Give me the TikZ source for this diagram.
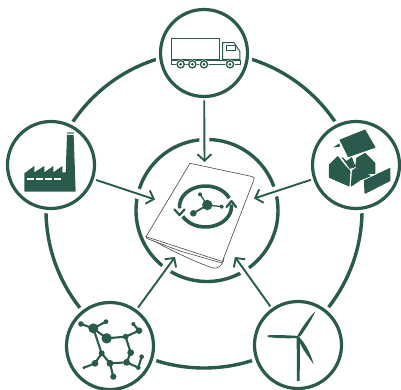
\documentclass[tikz,border=0pt]{standalone}
\usetikzlibrary{arrows.meta}
\definecolor{gr}{HTML}{2A5A4C}
\tikzset{
 x=1pt,y=-1pt,
 ring/.style={draw=gr,line width=3.4pt},
 badge/.style={circle,draw=gr,line width=3.2pt,fill=white,minimum size=87pt,inner sep=0pt,outer sep=4pt},
 halo/.style={circle,fill=white,minimum size=97pt,inner sep=0pt},
 link/.style={draw=gr,line width=1.9pt,-{Straight Barb[length=6.5pt,width=14pt,line width=1.9pt]}},
 gap/.style={draw=white,line width=10pt,shorten >=9pt},
 zoomed/.style={shift={#1},x=0.3333pt,y=-0.3333pt},
 solid/.style={fill=gr,draw=none},
 chunk/.style={fill=gr,draw=gr,line width=0.9pt,line join=round},
 outl/.style={draw=gr,line width=1pt,fill=white},
 page/.style={draw=black!72,line width=0.6pt,line join=round},
 bond/.style={draw=gr,line width=2.1pt},
 emblem/.style={draw=gr,line width=3.6pt},
 barb/.style={draw=gr,line width=2.2pt,line cap=round,line join=round},
}
\begin{document}
\begin{tikzpicture}
\useasboundingbox (0,0) rectangle (401,390);
% outer ring and inner ring
\coordinate (hub) at (204,210);
\path (hub) node[circle,ring,minimum size=316pt,inner sep=0pt] (outerring) {};
\node[halo] at (204,53) {};
\node[halo] at (51,165) {};
\node[halo] at (356,165) {};
\node[halo] at (110,346) {};
\node[halo] at (298,345) {};
\node[circle,ring,minimum size=142pt,inner sep=0pt] (core) at (207,210.5) {};
\node[badge] (truck) at (204,53) {};
\node[badge] (factory) at (51,165) {};
\node[badge] (house) at (356,165) {};
\node[badge] (molecule) at (110,346) {};
\node[badge] (turbine) at (298,345) {};
\coordinate (tipT) at (204.5,162);
\coordinate (tipL) at (155,199.5);
\coordinate (tipR) at (254,198.5);
\coordinate (tipBL) at (175,257);
\coordinate (tipBR) at (235,257);
\foreach \a/\b in {truck/tipT,factory/tipL,house/tipR,molecule/tipBL,turbine/tipBR}
  \draw[gap] (\a) -- (\b);
% truck
\begin{scope}[zoomed={(150,0)}]
 \draw[outl] (65,116) rectangle (210,178);
 \draw[outl] (218,128) -- (252,128) -- (270,155) -- (270,178) -- (218,178) -- cycle;
 \draw[draw=gr,line width=0.8pt] (230,137) rectangle (255,150);
 \draw[draw=gr,line width=0.9pt] (65,180) -- (65,192) -- (270,192) -- (270,180) -- cycle;
 \foreach \c in {92,127,162,240}{
  \fill[white] (\c,193) circle (4.8pt);
  \draw[gr,line width=1.3pt] (\c,193) circle (3.6pt);
  \fill[gr] (\c,193) circle (1.5pt);
 }
\end{scope}
% factory
\begin{scope}[zoomed={(0,115)}]
 \fill[solid] (73,175) -- (103,153) -- (103,172) -- (133,153) -- (133,172) -- (160,153) -- (160,172) -- (187,153) -- (187,172) -- (197,172) -- (201,60) -- (221,60) -- (227,230) -- (73,230) -- cycle;
 \fill[gr!55] (201,51) rectangle (221,58);
 \foreach \s in {80,107,134,161}
  \fill[white] (\s,188) rectangle (\s+21,194);
\end{scope}
% house
\begin{scope}[zoomed={(305,115)}]
 \draw[chunk] (105,75) -- (180,45) -- (210,97) -- (130,125) -- cycle;
 \draw[chunk] (73,150) -- (98,125) -- (118,150) -- (135,168) -- (132,213) -- (73,187) -- cycle;
 \draw[chunk] (112,128) -- (125,140) -- (140,128) -- (150,155) -- (135,160) -- cycle;
 \draw[chunk] (155,130) -- (180,115) -- (210,145) -- (210,175) -- (180,178) -- (152,155) -- cycle;
 \draw[chunk] (142,168) -- (152,160) -- (195,183) -- (165,195) -- (139,213) -- cycle;
 \draw[chunk] (178,197) -- (255,160) -- (255,197) -- (180,235) -- cycle;
 \fill[solid] (85,97) -- (103,85) -- (105,95) -- cycle;
\end{scope}
% molecule
\begin{scope}[zoomed={(60,300)}]
 \draw[bond] (63,72) -- (100,85) -- (138,65);
 \draw[bond] (100,85) -- (140,115) -- (197,110) -- (212,158) -- (200,187) -- (150,190) -- (125,160) -- cycle;
 \draw[bond] (197,110) -- (237,92) -- (220,72);
 \draw[bond] (125,160) -- (105,190) -- (72,203);
 \draw[bond] (150,190) -- (160,230);
 \draw[bond] (200,187) -- (235,203) -- (245,170);
 \foreach \a/\b/\r in {63/72/2.8,100/85/5,138/65/2.4,140/115/5.2,197/110/2.9,237/92/3.3,220/72/2,212/158/3.4,200/187/3.4,150/190/3.4,125/160/3,105/190/3.4,72/203/1.6,160/230/3.1,235/203/2.3,245/170/2.3}
  \fill[gr] (\a,\b) circle (\r pt);
\end{scope}
% turbine
\begin{scope}[zoomed={(245,300)}]
 \fill[solid] (155,112) -- (165,112) -- (164,243) -- (156,243) -- cycle;
 \fill[solid] (160,114) .. controls (120,116) and (90,114) .. (68,111) -- (68,106) .. controls (100,104) and (130,106) .. (162,108) -- cycle;
 \fill[solid] (157,108) .. controls (175,75) and (195,50) .. (211,34) .. controls (200,60) and (180,90) .. (165,110) -- cycle;
 \fill[solid] (163,112) .. controls (185,135) and (198,165) .. (206,193) .. controls (190,170) and (170,145) .. (160,118) -- cycle;
\end{scope}
% notebook
\draw[page,fill=white] (146,236.7) .. controls (170,250) and (195,262) .. (213,268) .. controls (218,269) and (221,266) .. (223,262) -- (224,258) -- (180,245) -- cycle;
\draw[page,fill=white] (146,236.7) -- (147,238.5) -- (180,251) -- (222,263);
\draw[page,fill=white] (190,163.3) -- (252,176.5) .. controls (254,177) and (254.5,178) .. (254,179.5) -- (222.3,261.5) -- (146,236.7) -- cycle;
% cycle emblem
\coordinate (orbit) at (205.5,206.5);
\draw[emblem] (orbit) +(175:26 and 20.5) arc[start angle=175,end angle=336,x radius=26,y radius=20.5];
\draw[emblem] (orbit) +(151:26 and 20.5) arc[start angle=151,end angle=-6,x radius=26,y radius=20.5];
\draw[barb] (174.5,209.5) -- (179.5,215) -- (184.5,209.5);
\draw[barb] (226.5,207) -- (231.5,201) -- (236,207);
\begin{scope}[zoomed={(130,135)}]
 \draw[gr,line width=1.3pt] (232,210) -- (210,178) (232,210) -- (275,215);
 \draw[gr,line width=1.8pt] (232,210) -- (190,235);
 \fill[gr] (232,210) circle (5.2pt);
 \fill[gr] (190,235) circle (3.3pt);
 \fill[gr] (210,178) circle (2pt);
 \fill[gr] (275,215) circle (2pt);
\end{scope}
% connectors
\foreach \a/\b in {truck/tipT,factory/tipL,house/tipR,molecule/tipBL,turbine/tipBR}
  \draw[link] (\a) -- (\b);
\end{tikzpicture}
\end{document}
